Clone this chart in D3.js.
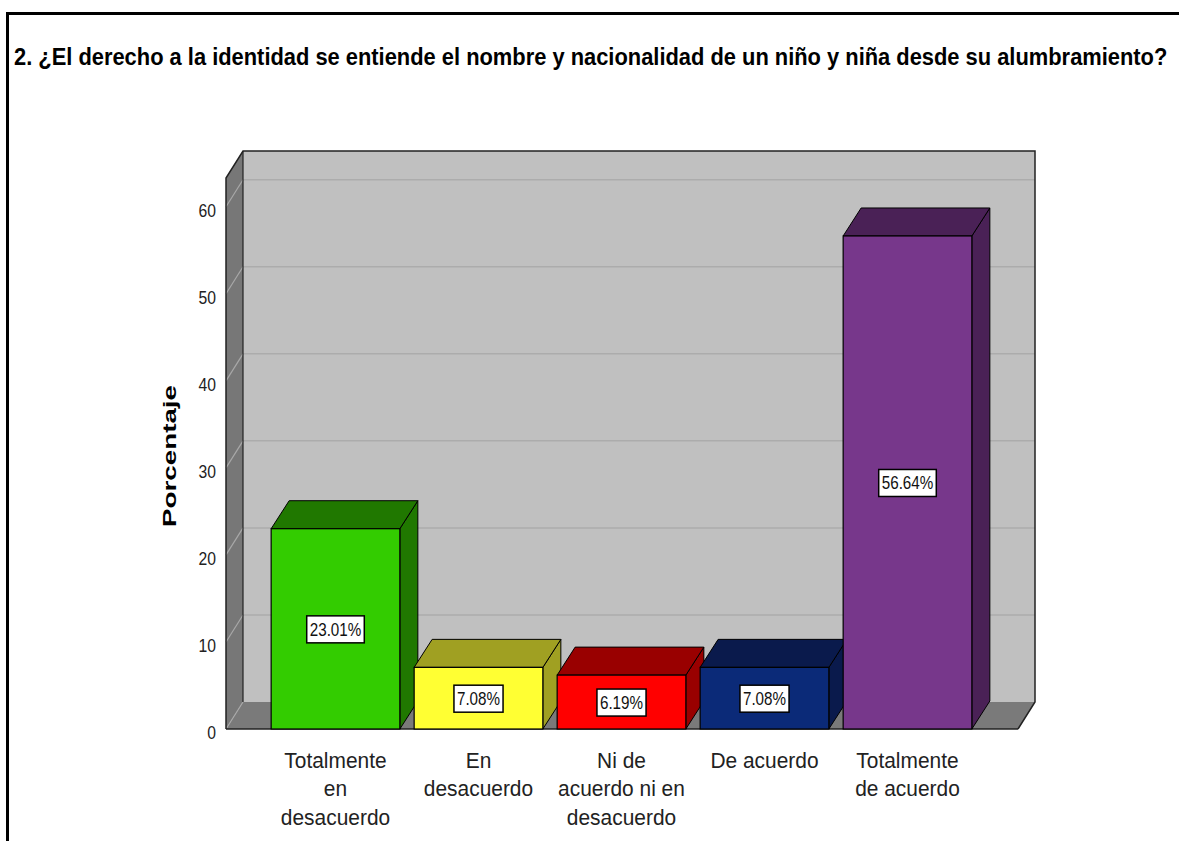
<!DOCTYPE html>
<html>
<head>
<meta charset="utf-8">
<script src="https://cdn.jsdelivr.net/npm/d3@7"></script>
<style>
  html, body { margin: 0; padding: 0; background: #fff; }
  svg { display: block; font-family: "Liberation Sans", Arial, sans-serif; }
</style>
</head>
<body>
<svg id="chart" width="1179" height="841"></svg>
<script>
const title = "2. ¿El derecho a la identidad se entiende el nombre y nacionalidad de un niño y niña desde su alumbramiento?";
const categories = ["Totalmente en desacuerdo", "En desacuerdo", "Ni de acuerdo ni en desacuerdo", "De acuerdo", "Totalmente de acuerdo"];
const categoryLines = [["Totalmente", "en", "desacuerdo"], ["En", "desacuerdo"], ["Ni de", "acuerdo ni en", "desacuerdo"], ["De acuerdo"], ["Totalmente", "de acuerdo"]];
const values = [23.01, 7.08, 6.19, 7.08, 56.64];
const valueLabels = ["23.01%", "7.08%", "6.19%", "7.08%", "56.64%"];
const yTicks = [0, 10, 20, 30, 40, 50, 60];
const yMax = 63.3;
const yTitle = "Porcentaje";
const frontColors = ["#33cc00", "#ffff33", "#ff0000", "#0b2a78", "#77378b"];
const sideColors = ["#207800", "#a0a022", "#990000", "#0a1a4c", "#4a2156"];

const svg = d3.select("#chart");

// outer frame
svg.append("path").attr("d", "M7.5,841 L7.5,13.5 L1179,13.5")
  .attr("fill", "none").attr("stroke", "#000").attr("stroke-width", 3);

// title (horizontally condensed via transform)
const titleG = svg.append("g");
const titleT = titleG.append("text").attr("x", 0).attr("y", 0)
  .attr("font-size", 24).attr("font-weight", "bold").attr("fill", "#000")
  .text(title);
const natural = titleT.node().getComputedTextLength();
const sx = 1154 / natural;
titleG.attr("transform", `translate(14,65) scale(${sx},1)`);

// scales
const frontLeft = 226, frontRight = 1018;
const y = d3.scaleLinear().domain([0, yMax]).range([729, 178]);
const x = d3.scaleBand().domain(categories).range([264, 979]).paddingInner(0.1).paddingOuter(0.05);
const wdx = 17, wdy = -27;   // wall depth
const bdx = 18, bdy = -28;   // bar depth

const g = svg.append("g");

// back wall
g.append("rect").attr("x", frontLeft + wdx).attr("y", y(yMax) + wdy)
  .attr("width", frontRight - frontLeft).attr("height", y(0) - y(yMax))
  .attr("fill", "#c0c0c0");
// left wall
g.append("path").attr("d", `M${frontLeft},${y(0)} L${frontLeft},${y(yMax)} L${frontLeft + wdx},${y(yMax) + wdy} L${frontLeft + wdx},${y(0) + wdy} Z`)
  .attr("fill", "#777777");
// floor
g.append("path").attr("d", `M${frontLeft},${y(0)} L${frontLeft + wdx},${y(0) + wdy} L${frontRight + wdx},${y(0) + wdy} L${frontRight},${y(0)} Z`)
  .attr("fill", "#7a7a7a");

// gridlines
yTicks.forEach(t => {
  if (t > 0) {
    g.append("line").attr("x1", frontLeft + wdx).attr("x2", frontRight + wdx)
      .attr("y1", y(t) + wdy).attr("y2", y(t) + wdy)
      .attr("stroke", "#acacac").attr("stroke-width", 1.5);
  }
  g.append("line").attr("x1", frontLeft).attr("x2", frontLeft + wdx)
    .attr("y1", y(t)).attr("y2", y(t) + wdy)
    .attr("stroke", "#a8a8a8").attr("stroke-width", 1.2);
});

// wall outlines
g.append("path").attr("d", `M${frontLeft},${y(0)} L${frontLeft},${y(yMax)} L${frontLeft + wdx},${y(yMax) + wdy} L${frontRight + wdx},${y(yMax) + wdy} L${frontRight + wdx},${y(0) + wdy} L${frontRight},${y(0)}`)
  .attr("fill", "none").attr("stroke", "#222").attr("stroke-width", 1.5);
g.append("line").attr("x1", frontLeft + wdx).attr("x2", frontLeft + wdx)
  .attr("y1", y(yMax) + wdy).attr("y2", y(0) + wdy)
  .attr("stroke", "#222").attr("stroke-width", 1.2);
g.append("line").attr("x1", frontLeft).attr("x2", frontRight)
  .attr("y1", y(0)).attr("y2", y(0))
  .attr("stroke", "#222").attr("stroke-width", 1.5);

// bars
categories.forEach((c, i) => {
  const x0 = x(c), x1 = x(c) + x.bandwidth();
  const yt = y(values[i]), yb = y(0);
  const bg = g.append("g");
  // side
  bg.append("path").attr("d", `M${x1},${yb} L${x1},${yt} L${x1 + bdx},${yt + bdy} L${x1 + bdx},${yb + bdy} Z`)
    .attr("fill", sideColors[i]).attr("stroke", "#000").attr("stroke-width", 1);
  // top
  bg.append("path").attr("d", `M${x0},${yt} L${x0 + bdx},${yt + bdy} L${x1 + bdx},${yt + bdy} L${x1},${yt} Z`)
    .attr("fill", sideColors[i]).attr("stroke", "#000").attr("stroke-width", 1);
  // front
  bg.append("rect").attr("x", x0).attr("y", yt).attr("width", x1 - x0).attr("height", yb - yt)
    .attr("fill", frontColors[i]).attr("stroke", "#000").attr("stroke-width", 1.2);
  // value label
  const cx = (x0 + x1) / 2, cy = (yt + yb) / 2;
  const lg = bg.append("g");
  const box = lg.append("rect");
  const txt = lg.append("text").attr("x", cx).attr("y", cy + 7)
    .attr("text-anchor", "middle").attr("font-size", 19).attr("fill", "#111")
    .text(valueLabels[i]);
  let w = txt.node().getComputedTextLength() * 0.8;
  txt.attr("textLength", w).attr("lengthAdjust", "spacingAndGlyphs");
  box.attr("x", cx - w / 2 - 3).attr("y", cy - 13).attr("width", w + 6).attr("height", 27)
    .attr("fill", "#fff").attr("stroke", "#000").attr("stroke-width", 1.5);
});

// y tick labels
svg.append("g").selectAll("text").data(yTicks).join("text")
  .attr("x", 216 / 0.85).attr("y", d => y(d) + 10)
  .attr("text-anchor", "end").attr("font-size", 18.5).attr("fill", "#222")
  .attr("transform", "scale(0.85,1)")
  .text(d => d);

// y title
svg.append("text").attr("transform", "translate(176,456) rotate(-90)")
  .attr("text-anchor", "middle").attr("font-size", 19).attr("font-weight", "bold").attr("fill", "#000")
  .attr("textLength", 142).attr("lengthAdjust", "spacingAndGlyphs")
  .text(yTitle);

// x labels
const xl = svg.append("g");
categories.forEach((c, i) => {
  const cx = x(c) + x.bandwidth() / 2;
  categoryLines[i].forEach((line, j) => {
    xl.append("text").attr("x", cx / 0.93).attr("y", 768 + j * 28.5)
      .attr("text-anchor", "middle").attr("font-size", 22.5).attr("fill", "#222")
      .attr("transform", "scale(0.93,1)")
      .text(line);
  });
});
</script>
</body>
</html>
